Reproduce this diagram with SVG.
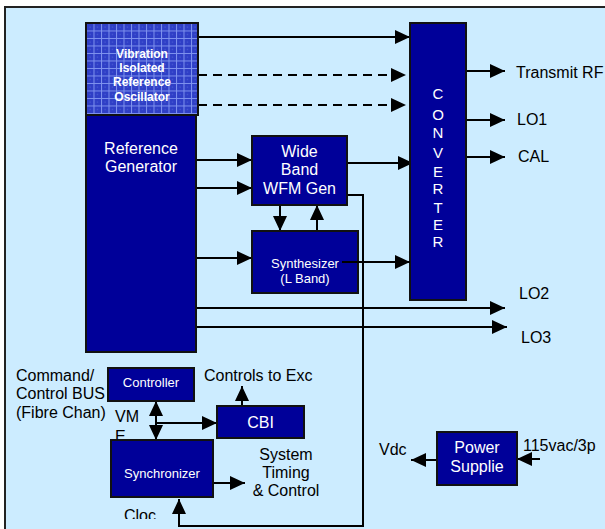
<svg xmlns="http://www.w3.org/2000/svg" width="605" height="529" viewBox="0 0 605 529">
<style>
.box{fill:#000099;stroke:#111;stroke-width:2}
.w{fill:#fff;font-family:"Liberation Sans",Arial,sans-serif}
.k{fill:#000;font-family:"Liberation Sans",Arial,sans-serif;font-size:16px}
.c{text-anchor:middle}
.ln{fill:none;stroke:#000;stroke-width:2}
.dash{stroke-dasharray:9,6}
</style>
<defs>
<marker id="ah" markerUnits="userSpaceOnUse" markerWidth="16" markerHeight="14" refX="15" refY="7" orient="auto">
<path d="M0,0 L15,7 L0,14 z" fill="#000"/>
</marker>
<marker id="as" markerUnits="userSpaceOnUse" markerWidth="16" markerHeight="14" refX="15" refY="7" orient="auto-start-reverse">
<path d="M0,0 L15,7 L0,14 z" fill="#000"/>
</marker>
<pattern id="grid" patternUnits="userSpaceOnUse" x="86" y="23" width="7.5" height="7.5">
<rect width="7.5" height="7.5" fill="#2F3FC6"/>
<path d="M0,0.5 H7.5 M0.5,0 V7.5" stroke="#7F93EE" stroke-width="1"/>
<rect x="3.5" y="3.5" width="1" height="1" fill="#5A6CE0"/>
</pattern>
<clipPath id="clipCloc"><rect x="100" y="500" width="80" height="19"/></clipPath>
</defs>
<rect x="0" y="0" width="605" height="529" fill="#fff"/>
<rect x="5" y="7" width="612" height="535" fill="#CCECFF" stroke="#222" stroke-width="2"/>

<g id="connectors">
<path class="ln" d="M198,37 H410" marker-end="url(#ah)"/>
<path class="ln dash" d="M198,75 H406" marker-end="url(#ah)"/>
<path class="ln dash" d="M198,105 H406" marker-end="url(#ah)"/>
<path class="ln" d="M466,71 H505" marker-end="url(#ah)"/>
<path class="ln" d="M466,120 H505" marker-end="url(#ah)"/>
<path class="ln" d="M466,157 H505" marker-end="url(#ah)"/>
<path class="ln" d="M196,160 H252" marker-end="url(#ah)"/>
<path class="ln" d="M196,188 H252" marker-end="url(#ah)"/>
<path class="ln" d="M347,163 H413" marker-end="url(#ah)"/>
<path class="ln" d="M347,195 H363 V526 H179 V499" marker-end="url(#ah)"/>
<path class="ln" d="M280,205 V231" marker-end="url(#ah)"/>
<path class="ln" d="M317,231 V205" marker-end="url(#ah)"/>
<path class="ln" d="M196,258 H252" marker-end="url(#ah)"/>
<path class="ln" d="M196,308 H505" marker-end="url(#ah)"/>
<path class="ln" d="M196,327 H507" marker-end="url(#ah)"/>
<path class="ln" d="M156,401 V440" marker-start="url(#as)" marker-end="url(#as)"/>
<path class="ln" d="M156,423 H217" marker-end="url(#ah)"/>
<path class="ln" d="M242,406 V386" marker-end="url(#ah)"/>
<path class="ln" d="M213,483 H245" marker-end="url(#ah)"/>
<path class="ln" d="M437,460 H411" marker-end="url(#ah)"/>
<path class="ln" d="M540,459 H517" marker-end="url(#ah)"/>
</g>

<g id="refgen">
<rect class="box" x="86" y="115" width="110" height="237"/>
<text class="w c" x="141" y="154" font-size="16">Reference</text>
<text class="w c" x="141" y="172" font-size="16">Generator</text>
</g>
<g id="oscillator">
<rect x="86" y="23" width="112" height="92" fill="url(#grid)" stroke="#111" stroke-width="2"/>
<text class="w c" x="142" y="58" font-size="12" font-weight="bold">Vibration</text>
<text class="w c" x="142" y="72" font-size="12" font-weight="bold">Isolated</text>
<text class="w c" x="142" y="86" font-size="12" font-weight="bold">Reference</text>
<text class="w c" x="142" y="101" font-size="12" font-weight="bold">Oscillator</text>
</g>
<g id="converter">
<rect class="box" x="410" y="23" width="56" height="277"/>
<g class="w c" font-size="15">
<text x="438" y="99">C</text>
<text x="438" y="120">O</text>
<text x="438" y="138">N</text>
<text x="438" y="158">V</text>
<text x="438" y="177">E</text>
<text x="438" y="194">R</text>
<text x="438" y="213">T</text>
<text x="438" y="230">E</text>
<text x="438" y="247">R</text>
</g>
</g>
<g id="wfmgen">
<rect class="box" x="252" y="136" width="95" height="69"/>
<text class="w c" x="299.5" y="157" font-size="16">Wide</text>
<text class="w c" x="299.5" y="175" font-size="16">Band</text>
<text class="w c" x="299.5" y="194" font-size="16">WFM Gen</text>
</g>
<g id="synthesizer">
<rect class="box" x="252" y="231" width="106" height="62"/>
<text class="w c" x="305" y="268" font-size="13">Synthesizer</text>
<text class="w c" x="305" y="283" font-size="13">(L Band)</text>
</g>
<path class="ln" d="M342,262 H410" marker-end="url(#ah)"/>
<g id="labels-right">
<text class="k" x="516" y="78">Transmit RF</text>
<text class="k" x="517" y="125">LO1</text>
<text class="k" x="518" y="162">CAL</text>
<text class="k" x="519" y="299">LO2</text>
<text class="k" x="521" y="343">LO3</text>
</g>
<g id="labels-left">
<text class="k" x="16" y="381">Command/</text>
<text class="k" x="16" y="399">Control BUS</text>
<text class="k" x="16" y="418">(Fibre Chan)</text>
<text class="k" x="204" y="381">Controls to Exc</text>
<text class="k" x="115" y="422">VM</text>
<text class="k" x="115" y="442">E</text>
<text class="k c" x="286" y="460">System</text>
<text class="k c" x="286" y="478">Timing</text>
<text class="k c" x="286" y="496">&amp; Control</text>
<text class="k" x="124" y="521" clip-path="url(#clipCloc)">Cloc</text>
<text class="k" x="379" y="455">Vdc</text>
<text class="k" x="523" y="451">115vac/3p</text>
</g>
<g id="controller">
<rect class="box" x="108" y="368" width="86" height="33"/>
<text class="w c" x="151" y="387" font-size="13">Controller</text>
</g>
<g id="cbi">
<rect class="box" x="217" y="406" width="87" height="32"/>
<text class="w c" x="260.5" y="428" font-size="16">CBI</text>
</g>
<g id="synchronizer">
<rect class="box" x="111" y="440" width="102" height="57"/>
<text class="w c" x="162" y="478" font-size="13">Synchronizer</text>
</g>
<g id="powersupply">
<rect class="box" x="437" y="432" width="80" height="53"/>
<text class="w c" x="477" y="453" font-size="16">Power</text>
<text class="w c" x="477" y="472" font-size="16">Supplie</text>
</g>
</svg>
